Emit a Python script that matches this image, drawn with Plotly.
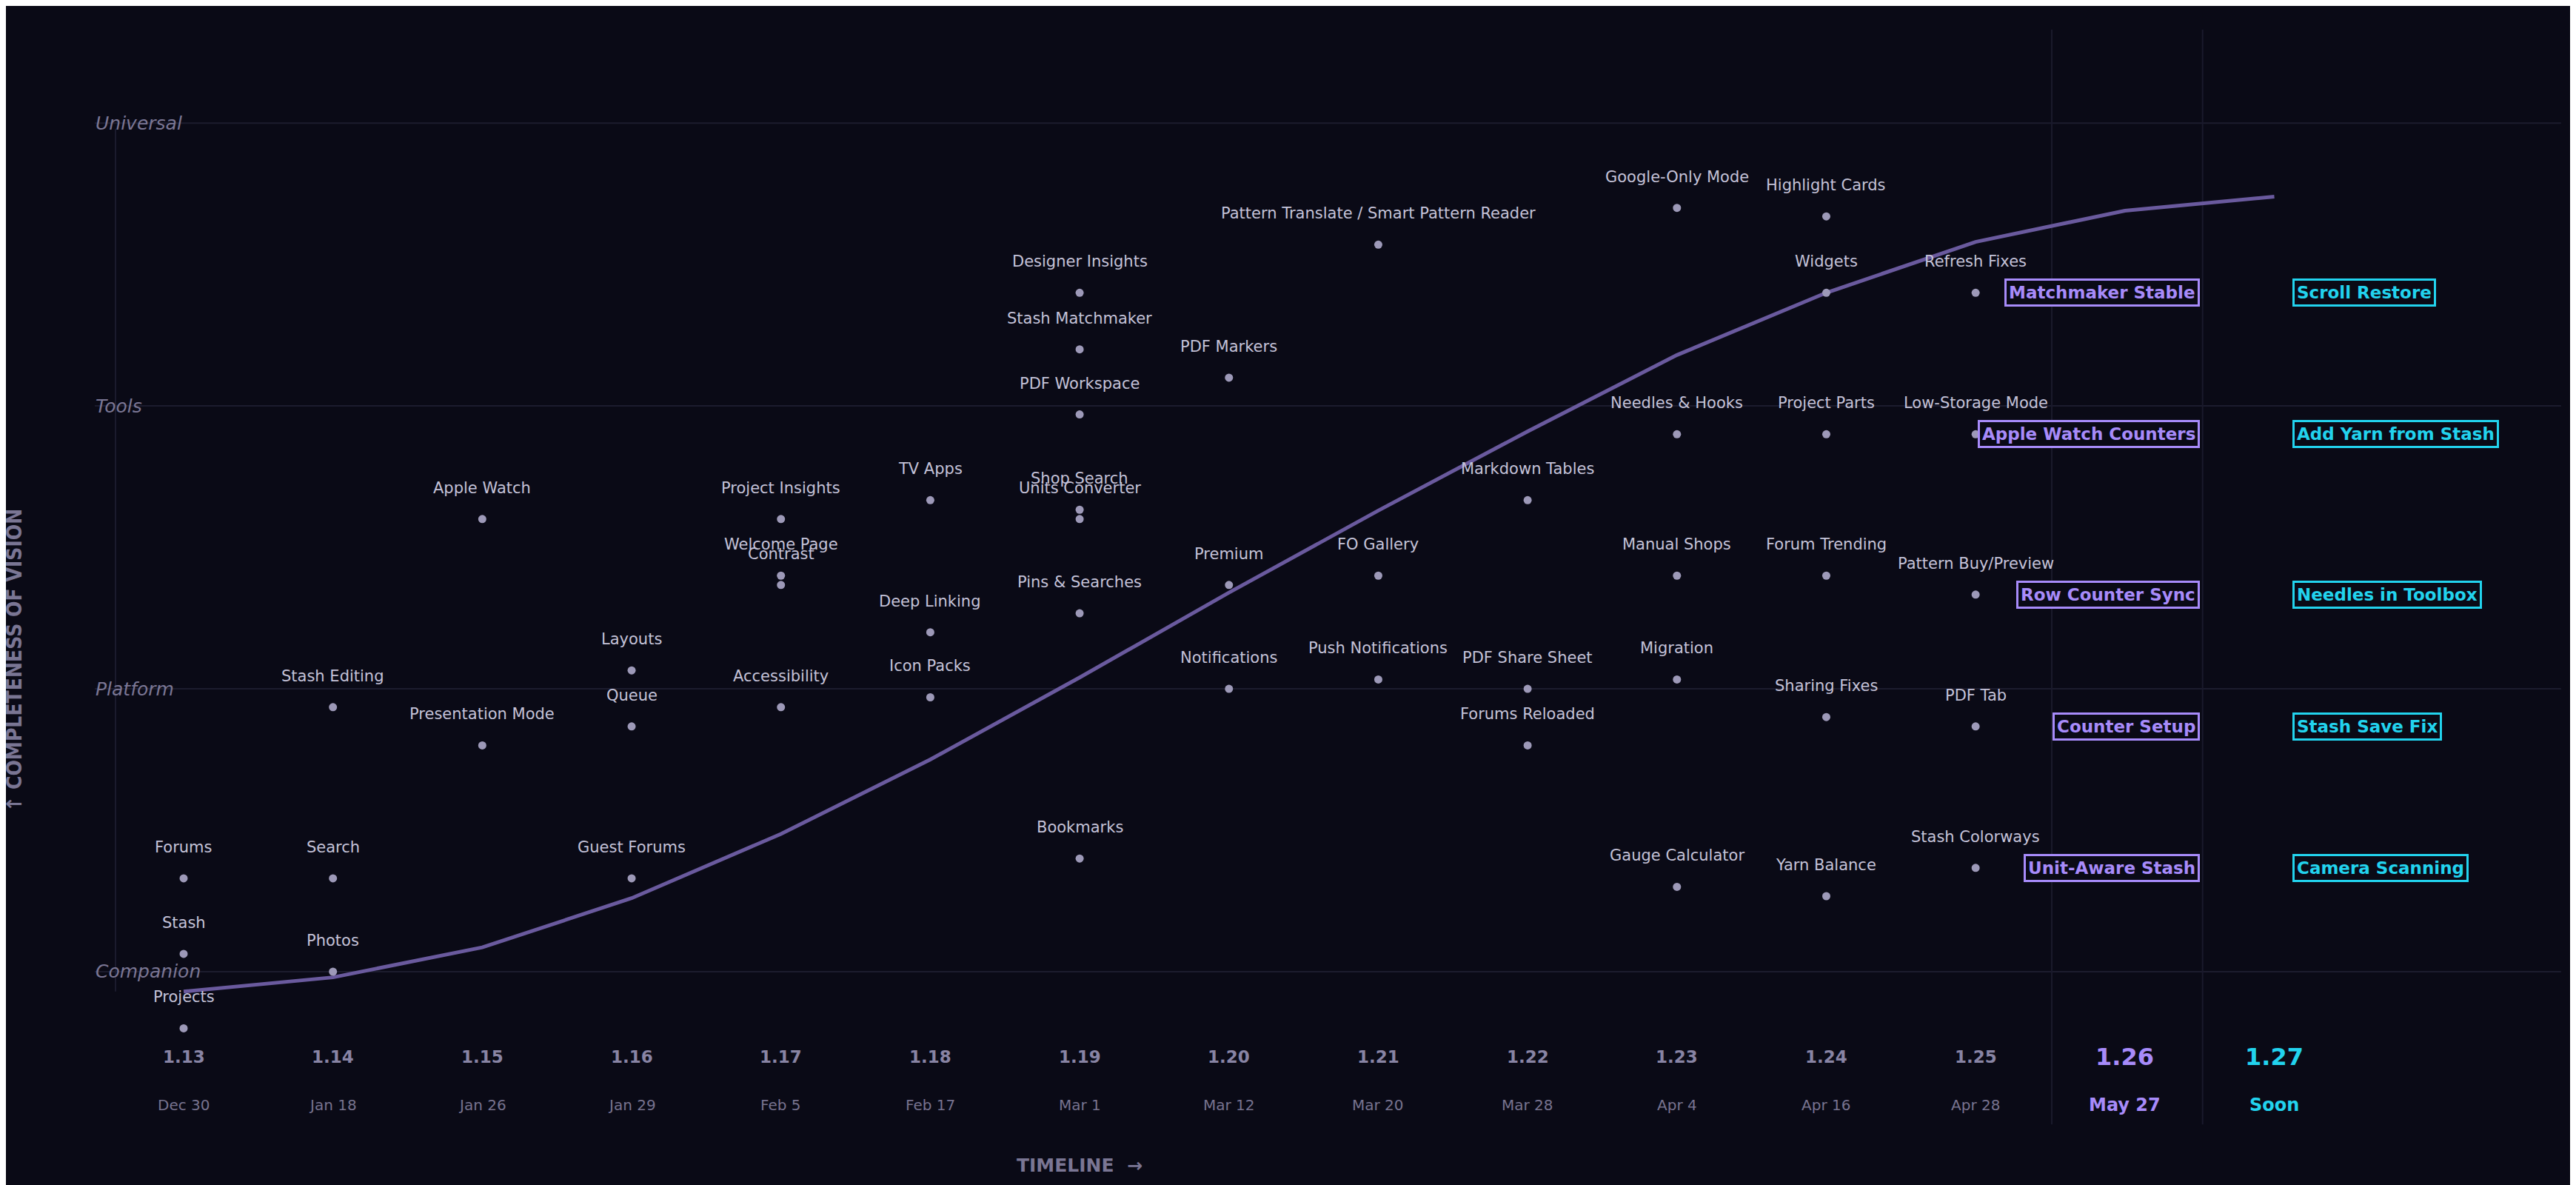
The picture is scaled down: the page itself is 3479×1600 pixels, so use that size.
import plotly.graph_objects as go

versions = ["1.13", "1.14", "1.15", "1.16", "1.17", "1.18", "1.19", "1.20",
            "1.21", "1.22", "1.23", "1.24", "1.25", "1.26", "1.27"]
dates = ["Dec 30", "Jan 18", "Jan 26", "Jan 29", "Feb 5", "Feb 17", "Mar 1", "Mar 12",
         "Mar 20", "Mar 28", "Apr 4", "Apr 16", "Apr 28", "May 27", "Soon"]
levels = ["Companion", "Platform", "Tools", "Universal"]

# vision curve
trend = [-0.07, -0.02, 0.086, 0.26, 0.487, 0.75, 1.04, 1.34, 1.63, 1.91, 2.18, 2.4, 2.58, 2.69, 2.74]

# shipped features: (version index, vision score, name)
feat_x = [0, 0, 0,
          1, 1, 1,
          2, 2,
          3, 3, 3,
          4, 4, 4, 4,
          5, 5, 5,
          6, 6, 6, 6, 6, 6, 6,
          7, 7, 7,
          8, 8, 8,
          9, 9, 9,
          10, 10, 10, 10, 10,
          11, 11, 11, 11, 11, 11,
          12, 12, 12, 12, 12]
feat_y = [0.33, 0.063, -0.2,
          0.935, 0.33, 0.0,
          1.6, 0.8,
          1.065, 0.867, 0.33,
          1.6, 1.4, 1.367, 0.935,
          1.667, 1.2, 0.97,
          2.4, 2.2, 1.97, 1.633, 1.6, 1.267, 0.4,
          2.1, 1.367, 1.0,
          2.57, 1.4, 1.033,
          1.667, 1.0, 0.8,
          2.7, 1.9, 1.4, 1.033, 0.3,
          2.67, 2.4, 1.9, 1.4, 0.9, 0.267,
          2.4, 1.9, 1.333, 0.867, 0.367]
feat_name = ["Forums", "Stash", "Projects",
             "Stash Editing", "Search", "Photos",
             "Apple Watch", "Presentation Mode",
             "Layouts", "Queue", "Guest Forums",
             "Project Insights", "Welcome Page", "Contrast", "Accessibility",
             "TV Apps", "Deep Linking", "Icon Packs",
             "Designer Insights", "Stash Matchmaker", "PDF Workspace", "Shop Search",
             "Units Converter", "Pins & Searches", "Bookmarks",
             "PDF Markers", "Premium", "Notifications",
             "Pattern Translate / Smart Pattern Reader", "FO Gallery", "Push Notifications",
             "Markdown Tables", "PDF Share Sheet", "Forums Reloaded",
             "Google-Only Mode", "Needles & Hooks", "Manual Shops", "Migration", "Gauge Calculator",
             "Highlight Cards", "Widgets", "Project Parts", "Forum Trending", "Sharing Fixes", "Yarn Balance",
             "Refresh Fixes", "Low-Storage Mode", "Pattern Buy/Preview", "PDF Tab", "Stash Colorways"]

# upcoming
next_y = [2.4, 1.9, 1.333, 0.867, 0.367]
next_126 = ["Matchmaker Stable", "Apple Watch Counters", "Row Counter Sync", "Counter Setup", "Unit-Aware Stash"]
next_127 = ["Scroll Restore", "Add Yarn from Stash", "Needles in Toolbox", "Stash Save Fix", "Camera Scanning"]

BG = "#0a0a16"
PURPLE = "#a78bfa"
CYAN = "#22d3ee"
FONT = "DejaVu Sans"

fig = go.Figure()

fig.add_trace(go.Scatter(x=list(range(len(trend))), y=trend, mode="lines",
                         line=dict(color="#6a5a9e", width=5), hoverinfo="skip"))
fig.add_trace(go.Scatter(x=feat_x, y=feat_y, mode="markers",
                         marker=dict(color="#9d99b8", size=11), text=feat_name,
                         hoverinfo="text"))

anns = []
for x, y, n in zip(feat_x, feat_y, feat_name):
    anns.append(dict(x=x, y=y, text=n, showarrow=False, yshift=42,
                     font=dict(family=FONT, size=21, color="#c4c2d8")))

for y, n in zip(next_y, next_126):
    anns.append(dict(x=13.5, y=y, text="<b>" + n + "</b>", showarrow=False, xanchor="right",
                     font=dict(family=FONT, size=23, color=PURPLE), bordercolor=PURPLE,
                     borderwidth=3, borderpad=3, bgcolor=BG))
for y, n in zip(next_y, next_127):
    anns.append(dict(x=14.12, y=y, text="<b>" + n + "</b>", showarrow=False, xanchor="left",
                     font=dict(family=FONT, size=23, color=CYAN), bordercolor=CYAN,
                     borderwidth=3, borderpad=3, bgcolor=BG))

for i, (v, d) in enumerate(zip(versions, dates)):
    if i == 13:
        col, vs, ds, db = PURPLE, 32, 24, True
    elif i == 14:
        col, vs, ds, db = CYAN, 32, 24, True
    else:
        col, vs, ds, db = "#8884a4", 23, 20, False
    anns.append(dict(x=i, y=-0.3, text="<b>" + v + "</b>", showarrow=False,
                     font=dict(family=FONT, size=vs, color=col)))
    anns.append(dict(x=i, y=-0.47, text=("<b>" + d + "</b>") if db else d, showarrow=False,
                     font=dict(family=FONT, size=ds, color=col if db else "#77738f")))

for i, lv in enumerate(levels):
    anns.append(dict(x=-0.6, y=i, text="<i>" + lv + "</i>", showarrow=False, xanchor="left",
                     font=dict(family=FONT, size=25, color="#7a7694")))

anns.append(dict(x=6.0, y=-0.685, text="<b>TIMELINE  →</b>", showarrow=False,
                 font=dict(family=FONT, size=25, color="#7a7694")))
anns.append(dict(x=-1.13, y=1.1, text="<b>↑ COMPLETENESS OF VISION</b>",
                 showarrow=False, textangle=-90,
                 font=dict(family="DejaVu Sans Condensed, DejaVu Sans", size=28, color="#7a7694")))

shapes = []
for i in range(len(levels)):
    shapes.append(dict(type="line", x0=-0.595, x1=15.92, y0=i, y1=i, layer="below",
                       line=dict(color="#1c1c2e", width=2)))
shapes.append(dict(type="line", x0=-0.456, x1=-0.456, y0=-0.07, y1=2.98, layer="below",
                   line=dict(color="#1c1c2e", width=2)))
for sx in [12.51, 13.52]:
    shapes.append(dict(type="line", x0=sx, x1=sx, y0=-0.54, y1=3.33, layer="below",
                       line=dict(color="#1a1a2c", width=2)))

fig.update_layout(
    width=3479, height=1600, paper_bgcolor=BG, plot_bgcolor=BG,
    margin=dict(l=0, r=0, t=0, b=0), showlegend=False,
    xaxis=dict(range=[-1.19, 16.06], visible=False, fixedrange=True),
    yaxis=dict(range=[-0.775, 3.414], visible=False, fixedrange=True),
    annotations=anns, shapes=shapes,
)

fig.write_html("out.html")
